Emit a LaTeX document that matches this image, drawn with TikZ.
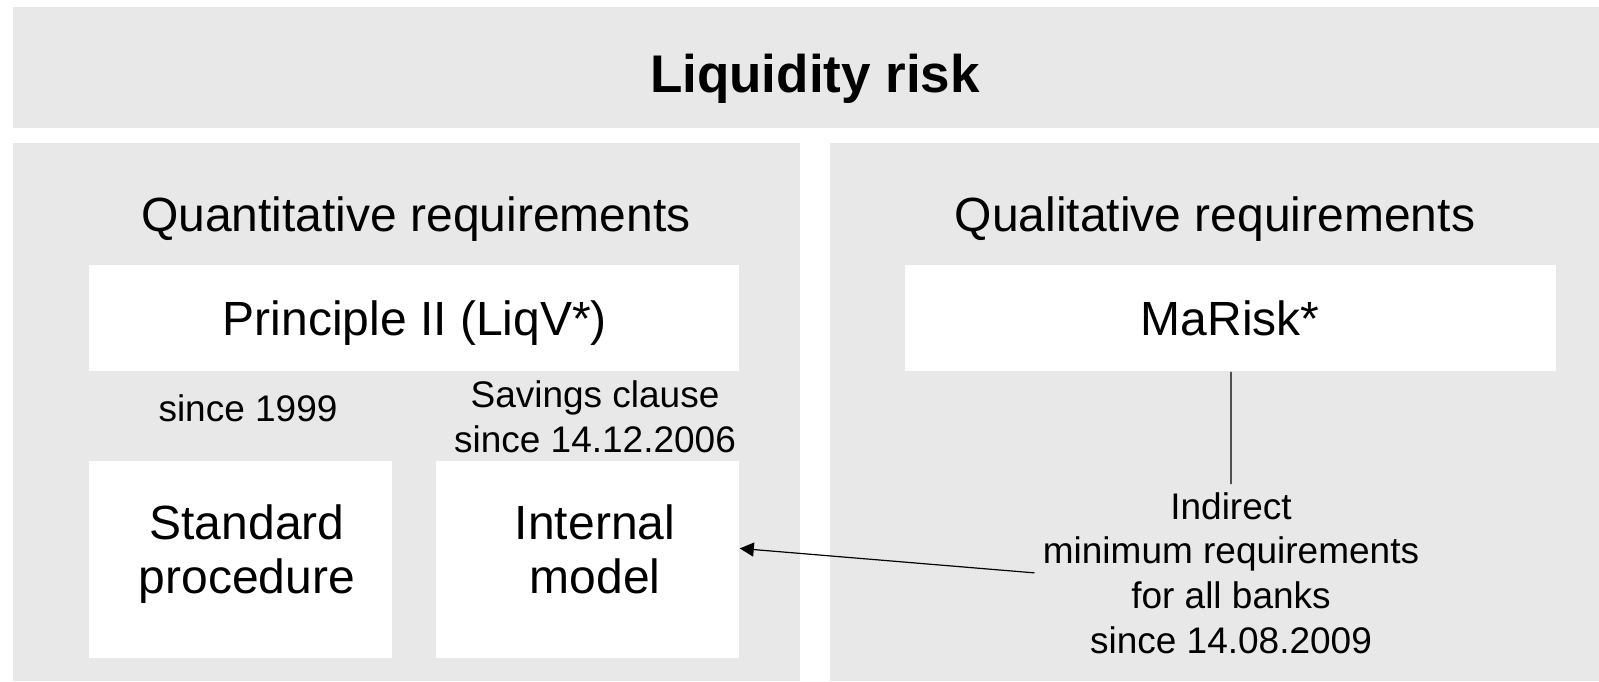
\documentclass[tikz,border=0pt]{standalone}
\usepackage{fontspec}
\setmainfont{Liberation Sans}
\usepackage{tikz}
\usetikzlibrary{arrows.meta, positioning}
\definecolor{LRGrey}{RGB}{232, 232, 232}
\definecolor{LRText}{RGB}{0, 0, 0}

\tikzset{
  panel/.style={fill=LRGrey, inner sep=0pt, anchor=north west},
  card/.style={fill=white, inner sep=0pt, anchor=north west},
  bigtext/.style={font=\fontsize{24}{27}\selectfont, text=LRText, align=center, anchor=base, inner sep=0pt},
  smalltext/.style={font=\fontsize{18.5}{22.3}\selectfont, text=LRText, align=center, anchor=base, inner sep=0pt},
  link/.style={line width=0.6pt, draw=LRText}
}

\begin{document}
\begin{tikzpicture}[x=0.5pt, y=-0.5pt]
    \useasboundingbox (0,0) rectangle (1599,681);

    % grey background panels
    \node[panel, minimum width=793pt, minimum height=60.5pt] (banner) at (13,7) {};
    \node[panel, minimum width=393.5pt, minimum height=269pt] (quant) at (13,143) {};
    \node[panel, minimum width=384.5pt, minimum height=269pt] (qual) at (830,143) {};

    % white boxes
    \node[card, minimum width=325pt, minimum height=53pt] (pr) at (89,265) {};
    \node[card, minimum width=325.5pt, minimum height=53pt] (mr) at (905,265) {};
    \node[card, minimum width=151.5pt, minimum height=98.5pt] (sp) at (89,461) {};
    \node[card, minimum width=151.5pt, minimum height=98.5pt] (im) at (436,461) {};

    % headings
    \node[font=\fontsize{26.5}{30}\selectfont\bfseries, anchor=base, inner sep=0pt] (title) at (815,92) {Liquidity risk};
    \node[bigtext] (quanttitle) at (416,231) {Quantitative requirements};
    \node[bigtext] (qualtitle) at (1215,231) {Qualitative requirements};

    % box texts (multi-line nodes sit on their last baseline)
    \node[bigtext] (prtext) at (415,335) {Principle II (LiqV*)};
    \node[bigtext] (mrtext) at (1230,335) {MaRisk*};
    \node[bigtext] (sptext) at (247,593) {Standard\\procedure};
    \node[bigtext] (imtext) at (595,593) {Internal\\model};

    % notes
    \node[smalltext] (since) at (248,421) {since 1999};
    \node[smalltext] (saving) at (595,452) {Savings clause\\since 14.12.2006};
    \node[smalltext, inner sep=4pt] (ind) at (1231,653) {Indirect\\minimum requirements\\for all banks\\since 14.08.2009};

    % connectors
    \draw[link] (mr.south) -- (ind.north);
    \draw[link, -{Triangle[length=7pt, width=7pt]}] (ind.west) -- ([yshift=5.75pt]im.east);
\end{tikzpicture}
\end{document}
